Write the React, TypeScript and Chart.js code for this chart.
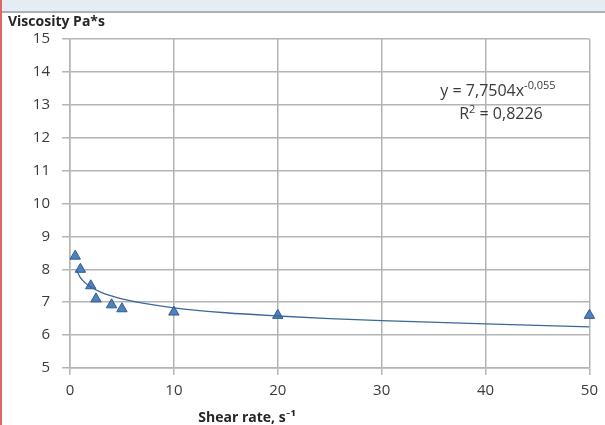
import React, { useEffect, useRef } from "react";
import { Chart, registerables } from "chart.js";

Chart.register(...registerables);

const shearRate = [0.5, 1, 2, 2.5, 4, 5, 10, 20, 50];
const viscosity = [8.4, 8.0, 7.5, 7.1, 6.92, 6.8, 6.7, 6.6, 6.6];

const trendX = [0.6, 1, 1.5, 2, 3, 4, 5, 7, 10, 15, 20, 25, 30, 40, 50];
const trendY = [8.0, 7.75, 7.58, 7.46, 7.3, 7.19, 7.1, 6.97, 6.83, 6.68, 6.58, 6.5, 6.44, 6.34, 6.25];

const yMin = 5;
const yMax = 15;
const yStep = 1;
const xMin = 0;
const xMax = 50;
const xStep = 10;

const yTitle = "Viscosity Pa*s";
const xTitle = "Shear rate, s\u207B\u00B9";
const eqMain = "y = 7,7504x";
const eqExp = "-0,055";
const r2Label = "R";
const r2Sup = "2";
const r2Value = " = 0,8226";

const FONT = "'Open Sans', Lato, sans-serif";
const TEXT = "#3a3a3a";

const decorPlugin = {
  id: "decor",
  beforeDraw(chart: any) {
    const ctx = chart.ctx;
    ctx.save();
    ctx.fillStyle = "#ffffff";
    ctx.fillRect(0, 0, chart.width, chart.height);
    ctx.fillStyle = "#e5ecf4";
    ctx.fillRect(0, 0, chart.width, 11);
    ctx.fillStyle = "#aeb1b4";
    ctx.fillRect(0, 11, chart.width, 2);
    ctx.fillStyle = "#e06666";
    ctx.fillRect(0, 0, 2, chart.height);
    ctx.restore();
  },
  afterDraw(chart: any) {
    const ctx = chart.ctx;
    ctx.save();
    ctx.fillStyle = "#262626";
    ctx.textBaseline = "middle";
    ctx.font = `bold 14px ${FONT}`;
    ctx.textAlign = "left";
    ctx.fillText(yTitle, 8, 22);
    ctx.textAlign = "center";
    ctx.fillText(xTitle, 247, 418);

    ctx.fillStyle = TEXT;
    ctx.textAlign = "left";
    ctx.textBaseline = "alphabetic";
    ctx.font = `16px ${FONT}`;
    const w1 = ctx.measureText(eqMain).width;
    ctx.font = `11px ${FONT}`;
    const w2 = ctx.measureText(eqExp).width;
    let x0 = 498 - (w1 + w2) / 2;
    ctx.font = `16px ${FONT}`;
    ctx.fillText(eqMain, x0, 96);
    ctx.font = `11px ${FONT}`;
    ctx.fillText(eqExp, x0 + w1, 89);

    ctx.font = `16px ${FONT}`;
    const a = ctx.measureText(r2Label).width;
    const c = ctx.measureText(r2Value).width;
    ctx.font = `11px ${FONT}`;
    const b = ctx.measureText(r2Sup).width;
    x0 = 501 - (a + b + c) / 2;
    ctx.font = `16px ${FONT}`;
    ctx.fillText(r2Label, x0, 119);
    ctx.font = `11px ${FONT}`;
    ctx.fillText(r2Sup, x0 + a, 113);
    ctx.font = `16px ${FONT}`;
    ctx.fillText(r2Value, x0 + a + b, 119);
    ctx.restore();
  },
};

export default function App() {
  const ref = useRef<HTMLCanvasElement | null>(null);
  useEffect(() => {
    if (!ref.current) return;
    const chart = new Chart(ref.current, {
      type: "scatter",
      data: {
        datasets: [
          {
            label: "trend",
            data: trendX.map((x, i) => ({ x, y: trendY[i] })),
            showLine: true,
            borderColor: "#3a679c",
            borderWidth: 1.3,
            pointRadius: 0,
            cubicInterpolationMode: "monotone",
            fill: false,
          } as any,
          {
            label: "data",
            data: shearRate.map((x, i) => ({ x, y: viscosity[i] })),
            pointStyle: "triangle",
            pointRadius: 6,
            backgroundColor: "#4f81bd",
            borderColor: "#2e5c91",
            borderWidth: 1,
            clip: false,
          } as any,
        ],
      },
      options: {
        animation: false,
        responsive: false,
        layout: { padding: { left: 0, right: 13, top: 39, bottom: 0 } },
        plugins: { legend: { display: false }, tooltip: { enabled: false } },
        scales: {
          x: {
            type: "linear",
            min: xMin,
            max: xMax,
            ticks: { stepSize: xStep, color: TEXT, font: { family: FONT, size: 15 }, padding: 7 },
            grid: { color: "#b4b4b4", lineWidth: 1.5, tickLength: 7, drawTicks: true },
            border: { color: "#b4b4b4", width: 1.5 },
            afterFit: (s: any) => { s.height = 57; },
          },
          y: {
            type: "linear",
            min: yMin,
            max: yMax,
            ticks: { stepSize: yStep, color: TEXT, font: { family: FONT, size: 15 }, padding: 12 },
            grid: { color: "#b4b4b4", lineWidth: 1.5, tickLength: 8 },
            border: { color: "#b4b4b4", width: 1.5 },
            afterFit: (s: any) => { s.width = 70; },
          },
        },
      },
      plugins: [decorPlugin],
    });
    return () => chart.destroy();
  }, []);
  return (
    <div style={{ position: "fixed", left: 0, top: 0, width: 605, height: 425 }}>
      <canvas ref={ref} width={605} height={425} style={{ display: "block" }} />
    </div>
  );
}
